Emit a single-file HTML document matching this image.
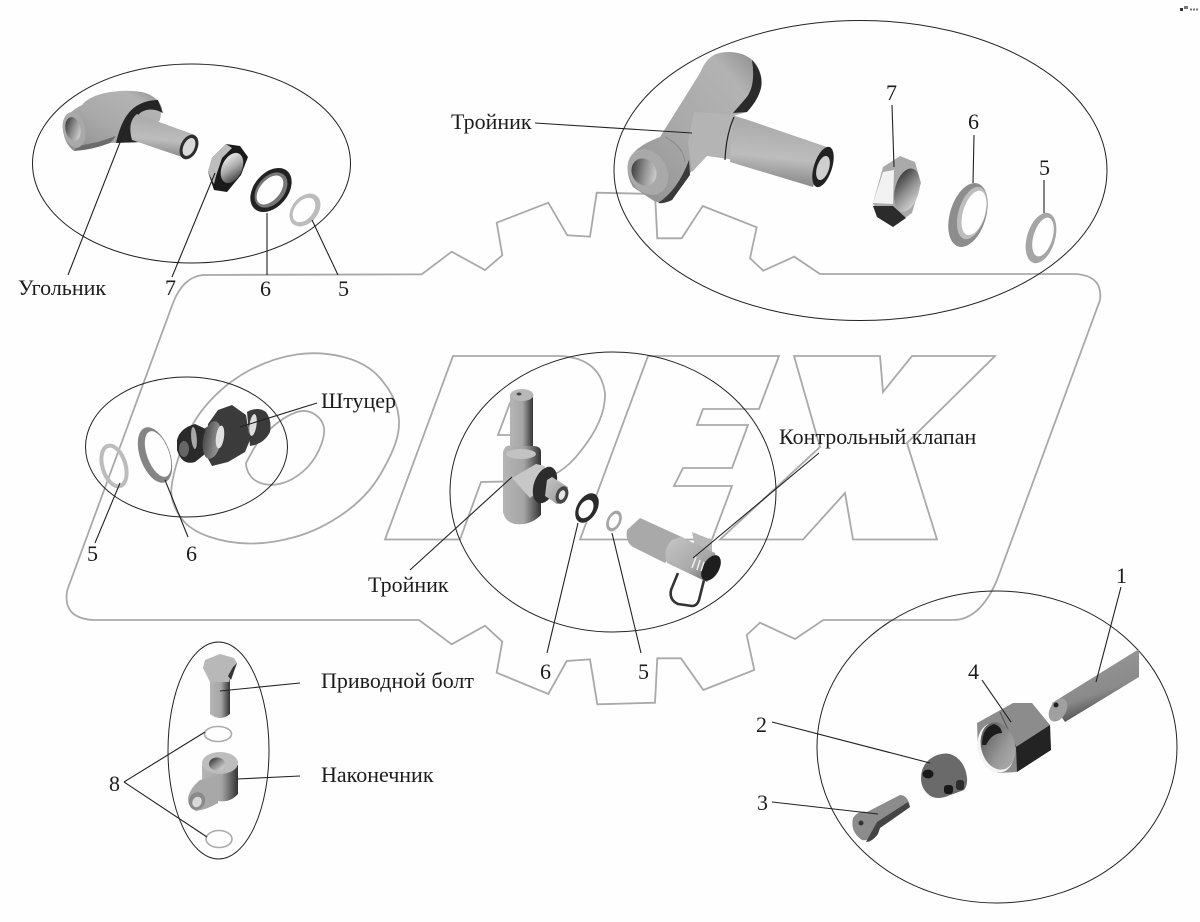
<!DOCTYPE html>
<html lang="ru">
<head>
<meta charset="utf-8">
<title>Diagram</title>
<style>
html,body{margin:0;padding:0;background:#fefefe}
svg{display:block}
text{font-family:"Liberation Serif","DejaVu Serif",serif;font-size:22px;fill:#1c1c1c}
.n{font-size:22px}
.logo{fill:none;stroke:#a9a9a9;stroke-width:1.8;stroke-linejoin:miter}
.el{fill:none;stroke:#222;stroke-width:1}
.ln{fill:none;stroke:#222;stroke-width:1.1}
</style>
</head>
<body>
<svg width="1200" height="922" viewBox="0 0 1200 922" xmlns="http://www.w3.org/2000/svg">
<defs>
<linearGradient id="cyl" x1="0" y1="0" x2="1" y2="1"><stop offset="0" stop-color="#c6c6c6"/><stop offset=".6" stop-color="#a8a8a8"/><stop offset="1" stop-color="#5c5c5c"/></linearGradient>
<linearGradient id="body" x1="0" y1="1" x2="1" y2="0"><stop offset="0" stop-color="#8e8e8e"/><stop offset=".45" stop-color="#a9a9a9"/><stop offset=".8" stop-color="#b3b3b3"/><stop offset="1" stop-color="#8a8a8a"/></linearGradient>
<linearGradient id="pipe" x1="0.35" y1="0" x2="0.2" y2="1"><stop offset="0" stop-color="#a8a8a8"/><stop offset=".55" stop-color="#bdbdbd"/><stop offset="1" stop-color="#7c7c7c"/></linearGradient>
<linearGradient id="vert" x1="0" y1="0" x2="1" y2="0"><stop offset="0" stop-color="#b5b5b5"/><stop offset=".55" stop-color="#a5a5a5"/><stop offset="1" stop-color="#333"/></linearGradient>
<linearGradient id="tube" x1="0.3" y1="0" x2="0.7" y2="1"><stop offset="0" stop-color="#9a9a9a"/><stop offset=".6" stop-color="#8a8a8a"/><stop offset=".82" stop-color="#555"/><stop offset="1" stop-color="#111"/></linearGradient>
<linearGradient id="hole" x1="0" y1="0" x2="1" y2="1"><stop offset="0" stop-color="#222"/><stop offset=".5" stop-color="#8e8e8e"/><stop offset="1" stop-color="#e8e8e8"/></linearGradient>
<linearGradient id="holeb" x1="0" y1="0" x2="1" y2="1"><stop offset="0" stop-color="#fff"/><stop offset=".5" stop-color="#aaa"/><stop offset="1" stop-color="#222"/></linearGradient>
<linearGradient id="nutin" x1="0" y1="0" x2="0.7" y2="1"><stop offset="0" stop-color="#4a4a4a"/><stop offset=".4" stop-color="#7a7a7a"/><stop offset=".7" stop-color="#999"/><stop offset="1" stop-color="#aaa"/></linearGradient>
<linearGradient id="sh" x1="0" y1="0" x2="1" y2="0"><stop offset="0" stop-color="#4a4a4a"/><stop offset="1" stop-color="#a0a0a0"/></linearGradient>
</defs>

<!-- logo gear outline -->
<path class="logo" d="M203,275 L421.7,274.3 L451.7,251.7 L485,270 L502.3,255.3 L496.7,222.7 L548.3,202.7 L567.3,235.3 L590,236.7 L596.7,192.7 L655,194 L657.3,238.3 L681.7,238.3 L702.7,206 L756.7,227.3 L750,258.3 L763.3,270.7 L794.3,256.7 L820,274 L1076,274 Q1103,276 1100,300 L997,580 Q980,620 953,620 L823.3,620 L795,639 L760,622.7 L746.7,635 L754.3,670 L703.3,690 L681,658.3 L657.3,658.3 L655,702.7 L597.3,704.3 L590,659.3 L566.7,661 L548.3,694 L496.7,672.7 L502.3,641.7 L485,625.7 L451.7,644.3 L419,620 L93,620 Q62,618 67.3,590 L173,303 Q183,277 203,275 Z"/>
<!-- O -->
<path class="logo" d="M180,453 Q190,423 208.5,402.5 Q227,382 250,370 Q273,358 296.5,354.5 Q320,351 343.5,357 Q367,363 380,378 Q393,393 397,408 Q401,423 397,438 Q393,453 380,475 Q367,497 343.5,513.5 Q320,530 295,537 Q270,544 248.5,543.5 Q227,543 208.5,536.5 Q190,530 181.5,518.5 Q173,507 171.5,495 Q170,483 180,453 Z"/>
<path class="logo" d="M253,450 Q260,437 273.5,426 Q287,415 297,412 Q307,409 315,414.5 Q323,420 324,428.5 Q325,437 319,450 Q313,463 303,471.5 Q293,480 283,483 Q273,486 264,484 Q255,482 250.5,476 Q246,470 246,463 Q246,463 253,450 Z"/>
<!-- P -->
<path class="logo" d="M453,356 L385,539.5 L460,539.5 L481,482 L533,481 Q560,478 580,452 Q606,420 605,393 Q600,358 560,356 Z"/>
<path class="logo" d="M510,403 L498,435 L518,435 Q530,432 530,418 Q530,404 518,403 Z"/>
<!-- E -->
<path class="logo" d="M648,356 L779,356 L759,409 L703,409 L697,425 L748,425 L732,468 L683,468 L674,486 L732,486 L712,539.5 L580,539.5 Z"/>
<!-- X -->
<path class="logo" d="M794,356 L880,356 L883,392 L912,356 L995,356 L907,443 L937,539.5 L853,539.5 L845,493 L803,539.5 L720,539.5 L820,447 Z"/>

<!-- big ellipses -->
<ellipse class="el" cx="191.5" cy="163.5" rx="159" ry="99.5"/>
<ellipse class="el" cx="860.5" cy="170.5" rx="246.5" ry="150"/>
<ellipse class="el" cx="186.5" cy="447" rx="101" ry="70"/>
<ellipse class="el" cx="613" cy="492" rx="163" ry="140"/>
<ellipse class="el" cx="997" cy="747" rx="180" ry="156"/>
<ellipse class="el" cx="218.5" cy="750.5" rx="50.5" ry="108.5"/>

<!-- elbow top-left -->
<path fill="url(#body)" d="M63,123 Q68,112 82,105 Q88,97 105,93 Q125,89 142,92 Q158,96 162,108 L160,120 L140,142 L107,143 L74,151 Q62,142 63,123 Z"/>
<path fill="#252525" d="M158,100 L163,113 Q150,106 140,113 Q132,122 133,138 L143,142 L116,143 Q122,116 135,107 Q145,100 158,100 Z"/>
<path fill="#6b6b6b" d="M74,151 Q92,150 110,143 L116,136 L98,142 L78,146 Z"/>
<ellipse cx="74" cy="130" rx="11" ry="18" fill="#a9a9a9" transform="rotate(-12 74 130)"/>
<ellipse cx="73" cy="129" rx="7.5" ry="12" fill="url(#hole)" transform="rotate(-12 73 129)"/>
<path fill="url(#pipe)" d="M137,114 L195,135 L185,158 L132,140 Q127,122 137,114 Z"/>
<ellipse cx="189" cy="147" rx="8.5" ry="13" fill="#2e2e2e" transform="rotate(25 189 147)"/>
<ellipse cx="189" cy="147" rx="5.5" ry="9.5" fill="#d9d9d9" transform="rotate(25 189 147)"/>
<!-- small nut/rings top-left -->
<path fill="#1a1a1a" d="M208,172 L212,158 L226,144 L240,146 L248,157 L241,175 L227,192 L214,190 Z"/>
<path fill="#bdbdbd" d="M208,172 L212,158 L226,144 L232,148 L222,158 L216,176 L214,184 Z"/>
<ellipse cx="232" cy="168" rx="10" ry="16" fill="url(#holeb)" transform="rotate(25 232 168)"/>
<ellipse cx="271" cy="190" rx="17" ry="25" fill="#222" transform="rotate(40 271 190)"/>
<ellipse cx="271" cy="190" rx="13.5" ry="20" fill="#777" transform="rotate(40 271 190)"/>
<ellipse cx="270" cy="190" rx="10" ry="17" fill="#fefefe" transform="rotate(40 270 190)"/>
<ellipse cx="305" cy="210" rx="13" ry="18.5" fill="#bcbcbc" transform="rotate(40 305 210)"/>
<ellipse cx="304" cy="210" rx="9" ry="14" fill="#fefefe" transform="rotate(40 304 210)"/>

<!-- big tee top-right -->
<path fill="url(#body)" d="M700,73 Q706,58 716,54 Q728,50 742,54 Q758,60 761,76 Q763,90 755,102 L747,112 L733,116 L705,155 L690,173 L672,200 Q662,204 654,201 L633,187 Q624,172 630,158 Q636,146 660,137 Z"/>
<path fill="#2a2a2a" d="M752,60 Q764,74 761,88 Q758,100 747,112 L733,113 L746,98 Q756,86 752,60 Z"/>
<path fill="#3a3a3a" d="M689,160 L690,175 L672,200 Q664,204 658,203 Q678,190 689,160 Z"/>
<path fill="#b4b4b4" d="M694,112 L733,115 L747,120 L735,160 L707,156 L692,172 L688,142 Z"/>
<path fill="url(#pipe)" d="M733,117 L745,119 L827,147 L813,187 L730,162 Z"/>
<path fill="none" stroke="#222" stroke-width="1.2" d="M734,117 Q726,135 725,160"/>
<ellipse cx="823" cy="167" rx="9" ry="21" fill="#222" transform="rotate(18 823 167)"/>
<ellipse cx="823" cy="168" rx="6" ry="12.5" fill="#cfcfcf" transform="rotate(18 823 168)"/>
<ellipse cx="648" cy="172" rx="19" ry="24" fill="#a9a9a9" transform="rotate(-30 648 172)"/>
<ellipse cx="644" cy="172" rx="12" ry="14" fill="url(#hole)" transform="rotate(-30 644 172)"/>
<path fill="none" stroke="#8a8a8a" d="M665,137 Q683,146 685,162"/>
<!-- nut top 7 -->
<path fill="#aaa" d="M873,203 L883,167 L900,156 L915,162 L921,183 L912,213 L893,227 L877,217 Z"/>
<path fill="#f2f2f2" d="M873,203 L883,172 L894,170 L893,204 Z"/>
<path fill="#2b2b2b" d="M873,206 L893,206 L906,218 L893,227 L877,217 Z"/>
<ellipse cx="907" cy="190" rx="12" ry="22" fill="url(#hole)" transform="rotate(15 907 190)"/>
<!-- rings top -->
<ellipse cx="968" cy="215" rx="18" ry="33" fill="#8d8d8d" transform="rotate(17 968 215)"/>
<ellipse cx="972" cy="213" rx="13.5" ry="27" fill="#bdbdbd" transform="rotate(17 972 213)"/>
<ellipse cx="974" cy="213" rx="11" ry="23" fill="#fefefe" transform="rotate(17 974 213)"/>
<ellipse cx="1041" cy="238" rx="14" ry="26" fill="#a5a5a5" transform="rotate(17 1041 238)"/>
<ellipse cx="1043" cy="237" rx="9.5" ry="20" fill="#fefefe" transform="rotate(17 1043 237)"/>

<!-- left rings and nipple -->
<ellipse cx="114" cy="466" rx="11.5" ry="21" fill="none" stroke="#bcbcbc" stroke-width="4" transform="rotate(-17 114 466)"/>
<ellipse cx="155" cy="455" rx="15" ry="29" fill="#858585" transform="rotate(-20 155 455)"/>
<ellipse cx="158" cy="454" rx="11" ry="24" fill="#fefefe" transform="rotate(-20 158 454)"/>
<path fill="#2a2a2a" d="M177,440 Q180,428 195,424 L208,430 L210,450 L195,462 Q182,466 177,450 Z"/>
<ellipse cx="194" cy="438" rx="2.8" ry="11" fill="#a8a8a8" transform="rotate(-5 194 438)"/>
<ellipse cx="184" cy="449" rx="5" ry="8" fill="#666"/>
<path fill="#444" d="M205,428 L218,422 L218,455 L205,455 Z"/>
<path fill="#3a3a3a" d="M247,412 Q258,406 266,412 Q272,420 270,432 Q264,444 250,446 Z"/>
<path fill="#3b3b3b" d="M208,424 L218,410 L232,405 L246,415 L250,440 L245,452 L228,462 L212,466 L206,455 Z"/>
<ellipse cx="212" cy="440" rx="9" ry="19" fill="url(#sh)" transform="rotate(10 212 440)"/>
<ellipse cx="220" cy="437" rx="4" ry="11.5" fill="#e0e0e0" transform="rotate(8 220 437)"/>
<ellipse cx="253" cy="425" rx="3.5" ry="11" fill="#dedede" transform="rotate(8 253 425)"/>

<!-- mid tee -->
<rect x="510" y="394" width="23" height="60" fill="url(#vert)"/>
<ellipse cx="522" cy="395" rx="11.5" ry="6" fill="#b8b8b8"/>
<ellipse cx="519" cy="394" rx="2.5" ry="1.5" fill="#444"/>
<path fill="url(#vert)" d="M503,452 Q505,444 512,446 L533,446 Q541,446 541,452 L541,515 Q530,526 515,524 Q505,522 503,512 Z"/>
<ellipse cx="521" cy="454" rx="15" ry="5" fill="#c2c2c2"/>
<path fill="#c7c7c7" d="M512,478 L536,464 L545,466 L538,492 L530,498 Z"/>
<ellipse cx="545" cy="485" rx="11" ry="19" fill="#2c2c2c" transform="rotate(20 545 485)"/>
<path fill="url(#cyl)" d="M547,480 L552,477 L568,487 L565,502 L557,504 L545,496 Z"/>
<ellipse cx="562" cy="495" rx="6" ry="9" fill="#444" transform="rotate(20 562 495)"/>
<ellipse cx="562" cy="495" rx="3" ry="5" fill="#e6e6e6" transform="rotate(20 562 495)"/>
<ellipse cx="587" cy="508" rx="10" ry="16" fill="#2b2b2b" transform="rotate(30 587 508)"/>
<ellipse cx="586" cy="509" rx="6.5" ry="10" fill="#fefefe" transform="rotate(30 586 509)"/>
<ellipse cx="614" cy="521" rx="7" ry="11" fill="#a5a5a5" transform="rotate(25 614 521)"/>
<ellipse cx="614" cy="521" rx="4.5" ry="7.5" fill="#fefefe" transform="rotate(25 614 521)"/>

<!-- valve -->
<path fill="none" stroke="#333" stroke-width="2.6" stroke-linejoin="round" d="M678,573 L671,590 Q669,600 678,604 L692,606 Q697,606 699,600 L704,580"/>
<path fill="#a9a9a9" d="M640,518 L627,530 Q625,542 633,547 L665,563 L684,538 Z"/>
<path fill="#b7b7b7" d="M692,532 L712,540 L712,552 L695,548 Z"/>
<path fill="url(#cyl)" d="M672,540 L681,537 L715,553 L718,566 L707,582 L667,563 Q662,550 672,540 Z"/>
<ellipse cx="711" cy="568" rx="8" ry="14" fill="#1e1e1e" transform="rotate(30 711 568)"/>
<path fill="none" stroke="#eee" stroke-width="1.5" d="M696,557 L692,568 M700,560 L697,570 M704,562 L701,571"/>

<!-- bottom right parts -->
<path fill="url(#tube)" d="M1052,703 L1139,649 L1139,677 L1065,722 Z"/>
<ellipse cx="1058" cy="710" rx="8" ry="12.5" fill="#a0a0a0" transform="rotate(30 1058 710)"/>
<ellipse cx="1056" cy="705" rx="2.5" ry="2.5" fill="#222"/>
<path fill="#8c8c8c" d="M977,723 L1013,703 L1032,703 L1050,725 L1051,750 L1017,772 L998,773 L978,750 Z"/>
<path fill="#232323" d="M1050,725 L1051,750 L1017,772 L1016,747 Z"/>
<path fill="none" stroke="#555" stroke-width="1" d="M1000,712 L1016,747"/>
<ellipse cx="996" cy="748" rx="18" ry="25" fill="#f4f4f4" transform="rotate(-14 996 748)"/>
<ellipse cx="998" cy="746" rx="17" ry="24" fill="url(#nutin)" transform="rotate(-14 998 746)"/>
<path fill="#1c1c1c" d="M982,745 Q982,728 994,724 Q1001,726 1002,733 Q992,733 986,745 Z"/>
<path fill="#6a6a6a" d="M921,778 Q921,766 930,759 Q940,752 950,754 Q962,758 966,772 Q969,784 964,790 L945,797 Q934,800 928,794 Q921,788 921,778 Z"/>
<ellipse cx="928" cy="774" rx="5.5" ry="4.5" fill="#181818"/>
<rect x="944" y="785" width="9" height="9" rx="3" fill="#181818"/>
<rect x="956" y="780" width="8" height="10" rx="3" fill="#2c2c2c"/>
<path fill="#8c8c8c" d="M867,812 L900,795 Q908,795 910,807 L880,828 Q872,842 862,840 Q850,832 853,818 Q858,810 867,812 Z"/>
<path fill="#444" d="M910,807 L880,828 L878,834 Q872,842 866,842 L877,822 L908,802 Z"/>
<ellipse cx="861" cy="823" rx="2.5" ry="2.5" fill="#333"/>

<!-- bolt + fitting -->
<path fill="url(#vert)" d="M210,675 L230,675 L230,714 Q220,722 210,714 Z"/>
<path fill="#b8b8b8" d="M203,668 L205,660 L220,654 L234,658 L237,663 L232,672 L229,682 L210,682 Z"/>
<path fill="#333" d="M237,663 L231,680 L228,676 L233,667 Z"/>
<ellipse cx="218" cy="734" rx="13.5" ry="7.5" fill="none" stroke="#aaa" stroke-width="1.6"/>
<ellipse cx="219" cy="839" rx="13" ry="8.5" fill="none" stroke="#aaa" stroke-width="1.6"/>
<path fill="url(#vert)" d="M202,765 L238,765 L238,794 Q230,803 218,801 L205,806 L202,780 Z"/>
<path fill="#a8a8a8" d="M200,780 L218,776 L218,803 Q206,810 196,811 Q188,808 188,798 Q190,788 200,780 Z"/>
<ellipse cx="197" cy="801" rx="8" ry="9" fill="#8a8a8a" transform="rotate(30 197 801)"/>
<ellipse cx="197" cy="802" rx="4.5" ry="5.5" fill="#d8d8d8" transform="rotate(30 197 802)"/>
<ellipse cx="220" cy="763" rx="18" ry="11" fill="#bdbdbd"/>
<ellipse cx="217" cy="764" rx="8" ry="6.5" fill="url(#hole)"/>

<!-- leader lines -->
<g class="ln">
<line x1="68" y1="275" x2="130" y2="117"/>
<line x1="172" y1="277" x2="215" y2="173"/>
<line x1="267" y1="275" x2="267" y2="213"/>
<line x1="338" y1="275" x2="312" y2="220"/>
<line x1="535" y1="123" x2="692" y2="133"/>
<line x1="892" y1="105" x2="894" y2="167"/>
<line x1="974" y1="135" x2="973" y2="183"/>
<line x1="1044" y1="180" x2="1044" y2="213"/>
<line x1="317" y1="403" x2="240" y2="427"/>
<line x1="95" y1="543" x2="120" y2="483"/>
<line x1="188" y1="537" x2="165" y2="480"/>
<line x1="410" y1="570" x2="512" y2="477"/>
<line x1="547" y1="653" x2="578" y2="523"/>
<line x1="641" y1="653" x2="612" y2="533"/>
<line x1="819" y1="453" x2="693" y2="558"/>
<line x1="300" y1="683" x2="220" y2="691"/>
<line x1="300" y1="776" x2="237" y2="779"/>
<line x1="124" y1="782" x2="205" y2="732"/>
<line x1="124" y1="782" x2="207" y2="837"/>
<line x1="1121" y1="587" x2="1096" y2="682"/>
<line x1="982" y1="680" x2="1011" y2="722"/>
<line x1="772" y1="722" x2="930" y2="763"/>
<line x1="772" y1="802" x2="878" y2="814"/>
</g>

<!-- labels -->
<text x="451" y="129">Тройник</text>
<text x="18" y="295">Угольник</text>
<text class="n" x="165" y="295">7</text>
<text class="n" x="260" y="296">6</text>
<text class="n" x="338" y="296">5</text>
<text class="n" x="886" y="100">7</text>
<text class="n" x="968" y="129">6</text>
<text class="n" x="1039" y="175">5</text>
<text x="321" y="408">Штуцер</text>
<text x="779" y="444">Контрольный клапан</text>
<text class="n" x="87" y="561">5</text>
<text class="n" x="186" y="561">6</text>
<text x="368" y="592">Тройник</text>
<text class="n" x="540" y="679">6</text>
<text class="n" x="638" y="679">5</text>
<text x="321" y="688">Приводной болт</text>
<text x="321" y="782">Наконечник</text>
<text class="n" x="109" y="791">8</text>
<text class="n" x="1116" y="583">1</text>
<text class="n" x="756" y="732">2</text>
<text class="n" x="757" y="810">3</text>
<text class="n" x="968" y="679">4</text>

<!-- tiny mark top right -->
<g fill="#777">
<rect x="1180" y="8" width="3" height="3" fill="#333"/>
<rect x="1184" y="6" width="4" height="3"/>
<rect x="1190" y="8.5" width="2" height="2"/>
<rect x="1193" y="8.5" width="2" height="2"/>
<rect x="1196" y="8.5" width="2" height="2"/>
</g>
</svg>
</body>
</html>
